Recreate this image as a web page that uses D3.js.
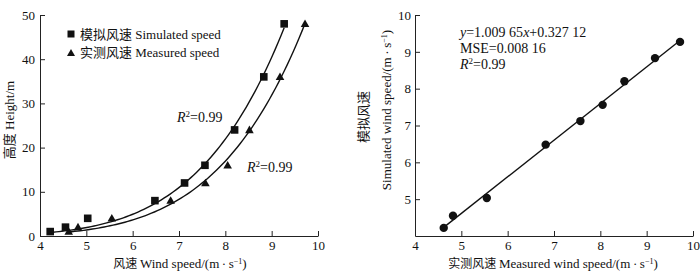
<!DOCTYPE html>
<html lang="en">
<head>
<meta charset="utf-8">
<title>Wind speed profile</title>
<script src="https://d3js.org/d3.v7.min.js"></script>
<style>
	body { margin: 0; background: #fff; }
	svg text { font-family: "Liberation Serif", "Times New Roman", "Noto Sans CJK SC", serif; fill: #111; }
	.cjk { font-family: "Noto Sans CJK SC", sans-serif; }
</style>
</head>
<body>
<div id="chart"></div>
<script>
	// measurement heights (m)
	let heights = [1, 2, 4, 8, 12, 16, 24, 36, 48];
	// simulated and measured wind speed at each height (m/s)
	let simSpeed = [4.22, 4.55, 5.03, 6.48, 7.12, 7.56, 8.20, 8.83, 9.27];
	let measSpeed = [4.62, 4.82, 5.55, 6.82, 7.57, 8.05, 8.52, 9.18, 9.72];
	let speedTicks = [4, 5, 6, 7, 8, 9, 10];
	let heightTicks = [0, 10, 20, 30, 40, 50];
	let simTicks = [5, 6, 7, 8, 9, 10];

	let svg = d3.select("#chart").append("svg")
		.attr("width", 700).attr("height", 271);

	// power fit h = c * v^k, least squares on h (search over k, c closed form)
	function powerFit(v, h) {
		let best = null;
		for (let k = 1; k <= 9; k += 0.002) {
			let p = v.map(d => Math.pow(d, k));
			let c = d3.sum(p, (d, i) => d * h[i]) / d3.sum(p, d => d * d);
			let err = d3.sum(p, (d, i) => (c * d - h[i]) * (c * d - h[i]));
			if (!best || err < best.err) best = {k: k, c: c, err: err};
		}
		return x => best.c * Math.pow(x, best.k);
	}
	function linearFit(x, y) {
		let mx = d3.mean(x), my = d3.mean(y);
		let b = d3.sum(x, (d, i) => (d - mx) * (y[i] - my)) / d3.sum(x, d => (d - mx) * (d - mx));
		return v => my + b * (v - mx);
	}
	function styleAxis(g) {
		g.select(".domain").attr("stroke", "#222").attr("stroke-width", 1);
		g.selectAll(".tick line").attr("stroke", "#222");
		g.selectAll(".tick text").attr("font-size", 13).attr("fill", "#111")
			.style("font-family", "'Liberation Serif', serif");
	}
	function trianglePath(x, y, s) {
		return "M" + x + "," + (y - s) + " L" + (x - s) + "," + (y + s * 0.75) + " L" + (x + s) + "," + (y + s * 0.75) + " Z";
	}
	// unit text with superscript
	function unitTail(sel, en) {
		sel.append("tspan").text(en + "/(m\u2009\u00b7\u2009s");
		sel.append("tspan").attr("font-size", 8).attr("dy", -4).text("\u22121");
		sel.append("tspan").attr("dy", 4).text(")");
	}
	function r2Label(g, x, y) {
		let t = g.append("text").attr("x", x).attr("y", y).attr("font-size", 14);
		t.append("tspan").attr("font-style", "italic").text("R");
		t.append("tspan").attr("font-size", 9).attr("dy", -5).text("2");
		t.append("tspan").attr("dy", 5).text("=0.99");
	}
	let fmt = d3.format("d");

	// ---------- left chart: height profile ----------
	let left = svg.append("g");
	let xL = d3.scaleLinear().domain([4, 10]).range([40, 318]);
	let yL = d3.scaleLinear().domain([0, 50]).range([236, 15]);

	left.append("g").attr("transform", "translate(0,236)")
		.call(d3.axisBottom(xL).tickValues(speedTicks).tickFormat(fmt).tickSizeInner(-5).tickSizeOuter(0).tickPadding(5))
		.call(styleAxis);
	left.append("g").attr("transform", "translate(40,0)")
		.call(d3.axisLeft(yL).tickValues(heightTicks).tickFormat(fmt).tickSizeInner(-5).tickSizeOuter(0).tickPadding(5))
		.call(styleAxis);

	let simFit = powerFit(simSpeed, heights);
	let measFit = powerFit(measSpeed, heights);
	let curve = (fit, lo, hi) => d3.line()
		.x(v => xL(v)).y(v => yL(fit(v)))(d3.range(lo, hi + 0.001, (hi - lo) / 80));
	left.append("path").attr("d", curve(simFit, d3.min(simSpeed), d3.max(simSpeed)))
		.attr("fill", "none").attr("stroke", "#111").attr("stroke-width", 1.4);
	left.append("path").attr("d", curve(measFit, d3.min(measSpeed), d3.max(measSpeed)))
		.attr("fill", "none").attr("stroke", "#111").attr("stroke-width", 1.4);

	left.selectAll("rect.sim").data(heights).enter().append("rect")
		.attr("x", (d, i) => xL(simSpeed[i]) - 3.8).attr("y", d => yL(d) - 3.8)
		.attr("width", 7.6).attr("height", 7.6).attr("fill", "#111");
	left.selectAll("path.meas").data(heights).enter().append("path")
		.attr("d", (d, i) => trianglePath(xL(measSpeed[i]), yL(d), 4.3)).attr("fill", "#111");

	// legend
	left.append("rect").attr("x", 67.5).attr("y", 30.5).attr("width", 7).attr("height", 7).attr("fill", "#111");
	left.append("path").attr("d", trianglePath(71, 53, 4)).attr("fill", "#111");
	let lg1 = left.append("text").attr("x", 80).attr("y", 39).attr("font-size", 13);
	lg1.append("tspan").attr("class", "cjk").text("模拟风速");
	lg1.append("tspan").text(" Simulated speed");
	let lg2 = left.append("text").attr("x", 80).attr("y", 57).attr("font-size", 13);
	lg2.append("tspan").attr("class", "cjk").text("实测风速");
	lg2.append("tspan").text(" Measured speed");

	r2Label(left, 177, 122);
	r2Label(left, 247, 172);

	let yLab = left.append("text").attr("transform", "translate(14,120) rotate(-90)")
		.attr("text-anchor", "middle").attr("font-size", 13);
	yLab.append("tspan").attr("class", "cjk").text("高度");
	yLab.append("tspan").text(" Height/m");
	let xLab = left.append("text").attr("x", 180).attr("y", 268)
		.attr("text-anchor", "middle").attr("font-size", 13);
	xLab.append("tspan").attr("class", "cjk").attr("font-size", 12).text("风速 ");
	unitTail(xLab, "Wind speed");

	// ---------- right chart: simulated vs measured ----------
	let right = svg.append("g");
	let xR = d3.scaleLinear().domain([4, 10]).range([415, 693]);
	let yR = d3.scaleLinear().domain([4, 10]).range([236, 15]);

	right.append("g").attr("transform", "translate(0,236)")
		.call(d3.axisBottom(xR).tickValues(speedTicks).tickFormat(fmt).tickSizeInner(-5).tickSizeOuter(0).tickPadding(5))
		.call(styleAxis);
	right.append("g").attr("transform", "translate(415,0)")
		.call(d3.axisLeft(yR).tickValues(simTicks).tickFormat(fmt).tickSizeInner(-5).tickSizeOuter(0).tickPadding(4))
		.call(styleAxis);

	let fitLine = linearFit(measSpeed, simSpeed);
	let x0 = d3.min(measSpeed), x1 = d3.max(measSpeed);
	right.append("line")
		.attr("x1", xR(x0)).attr("y1", yR(fitLine(x0)))
		.attr("x2", xR(x1)).attr("y2", yR(fitLine(x1)))
		.attr("stroke", "#111").attr("stroke-width", 1.4);

	right.selectAll("circle").data(measSpeed).enter().append("circle")
		.attr("cx", d => xR(d)).attr("cy", (d, i) => yR(simSpeed[i]))
		.attr("r", 4.2).attr("fill", "#111");

	let eq = right.append("text").attr("x", 460).attr("y", 37).attr("font-size", 14);
	eq.append("tspan").attr("font-style", "italic").text("y");
	eq.append("tspan").text("=1.009 65");
	eq.append("tspan").attr("font-style", "italic").text("x");
	eq.append("tspan").text("+0.327 12");
	right.append("text").attr("x", 460).attr("y", 53).attr("font-size", 14).text("MSE=0.008 16");
	r2Label(right, 460, 69);

	right.append("text").attr("transform", "translate(368,117) rotate(-90)")
		.attr("text-anchor", "middle").attr("font-size", 13).attr("class", "cjk").text("模拟风速");
	let yLabR2 = right.append("text").attr("transform", "translate(391,110) rotate(-90)")
		.attr("text-anchor", "middle").attr("font-size", 13);
	unitTail(yLabR2, "Simulated wind speed");
	let xLabR = right.append("text").attr("x", 553).attr("y", 268)
		.attr("text-anchor", "middle").attr("font-size", 13);
	xLabR.append("tspan").attr("class", "cjk").attr("font-size", 12).text("实测风速 ");
	unitTail(xLabR, "Measured wind speed");
</script>
</body>
</html>
